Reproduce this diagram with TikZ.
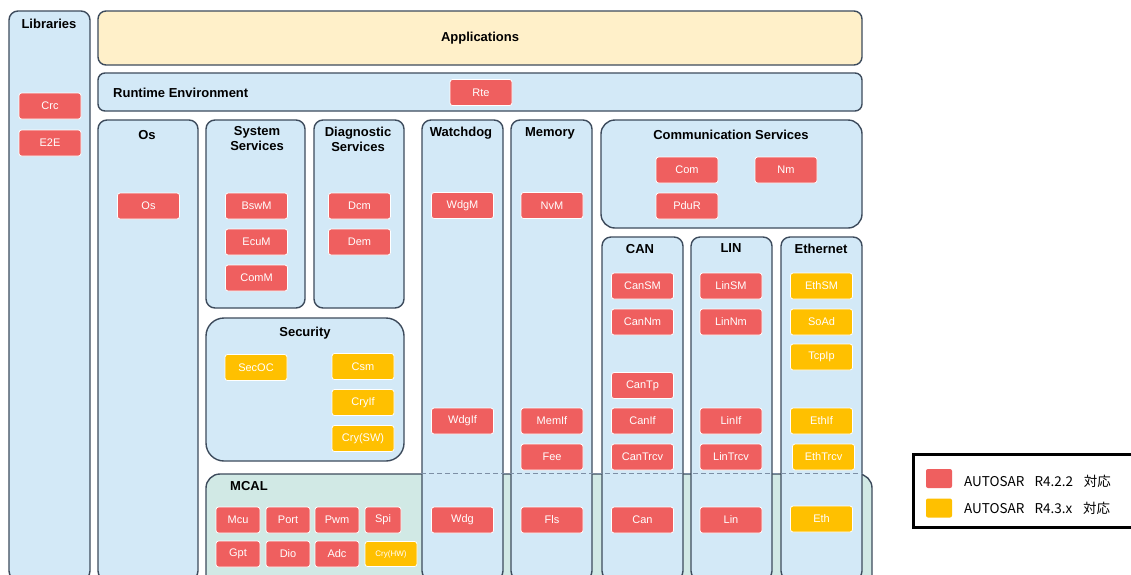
\documentclass[tikz,border=0pt]{standalone}
\usepackage{fontspec}
\setmainfont{Liberation Sans}
\newfontfamily\jpfont{Noto Sans CJK JP}
\usetikzlibrary{fit}
\definecolor{redc}{HTML}{EF5F5F}
\definecolor{yelc}{HTML}{FFC000}
\definecolor{lblue}{HTML}{D3E9F7}
\definecolor{appc}{HTML}{FFF0C9}
\definecolor{mcalc}{HTML}{D1E9E5}
\definecolor{bordc}{HTML}{3D4B5C}
\definecolor{dashc}{HTML}{7D8FA5}
\begin{document}
\begin{tikzpicture}[x=1pt,y=-1pt,
  layer/.style={draw=bordc, line width=1.4pt, fill=lblue, rounded corners=9pt, inner sep=0pt},
  ttl/.style={font=\bfseries\fontsize{13}{15}\selectfont, text=black, align=center, inner sep=0pt},
  mod/.style={fill=redc, draw=white, line width=0.8pt, rounded corners=2.5pt, text=white,
    font=\fontsize{11}{12}\selectfont, minimum width=62pt, minimum height=26pt, inner sep=0pt},
  newmod/.style={mod, fill=yelc},
  mcalmod/.style={mod, minimum width=44pt},
  legsq/.style={fill=#1, draw=none, rounded corners=2pt, minimum width=26pt, minimum height=19pt, inner sep=0pt},
  legtxt/.style={font=\jpfont\fontsize{13.5}{15}\selectfont, anchor=west, inner sep=0pt},
  sep/.style={draw=dashc, line width=1.6pt, dash pattern=on 5pt off 3pt}]
\clip (0,0) rectangle (1131,574);
\fill[white] (0,0) rectangle (1131,574);
% layers
\node[layer, fit={(9,11) (90,580)}] (lib) {};
\node[layer, fill=appc, rounded corners=8pt, fit={(98,11) (862,65)}] (app) {};
\node[layer, rounded corners=7pt, fit={(98,73) (862,111)}] (rteL) {};
\node[layer, fit={(98,120) (198,580)}] (osL) {};
\node[layer, fit={(206,120) (305,308)}] (sys) {};
\node[layer, fit={(314,120) (404,308)}] (diag) {};
\node[layer, rounded corners=18pt, fit={(206,318) (404,461)}] (sec) {};
\node[layer, fill=mcalc, rounded corners=14pt, fit={(206,474) (872,590)}] (mcal) {};
\node[layer, fit={(422,120) (503,580)}] (wdog) {};
\node[layer, fit={(511,120) (592,580)}] (mem) {};
\node[layer, rounded corners=14pt, fit={(601,120) (862,228)}] (comS) {};
\node[layer, fit={(602,237) (683,580)}] (canL) {};
\node[layer, fit={(691,237) (772,580)}] (linL) {};
\node[layer, fit={(781,237) (862,580)}] (ethL) {};
\draw[sep] (wdog.west |- mcal.north) -- (ethL.east |- mcal.north);
% titles
\node[ttl] (tLib) at (49,24) {Libraries};
\node[ttl] (tApp) at (480,38) {Applications};
\node[ttl, anchor=west] (tRte) at (113,93) {Runtime Environment};
\node[ttl] (tOs) at (147,135) {Os};
\node[ttl] (tSys) at (257,139) {System\\Services};
\node[ttl] (tDiag) at (358,139) {Diagnostic\\Services};
\node[ttl] (tSec) at (305,333) {Security};
\node[ttl] (tWdg) at (461,133) {Watchdog};
\node[ttl] (tMem) at (550,133) {Memory};
\node[ttl] (tCom) at (731,135) {Communication Services};
\node[ttl] (tCan) at (640,249) {CAN};
\node[ttl] (tLin) at (731,248) {LIN};
\node[ttl] (tEth) at (821,249) {Ethernet};
\node[ttl] (tMcal) at (249,486) {MCAL};
% modules
\node[mod] (crc) at (50,106) {Crc};
\node[mod] (e2e) at (50,143) {E2E};
\node[mod] (rte) at (481,92.5) {Rte};
\node[mod] (os) at (148.5,206) {Os};
\node[mod] (bswm) at (256.5,206) {BswM};
\node[mod] (ecum) at (256.5,242) {EcuM};
\node[mod] (comm) at (256.5,278) {ComM};
\node[mod] (dcm) at (359.5,206) {Dcm};
\node[mod] (dem) at (359.5,242) {Dem};
\node[newmod] (secoc) at (256,367.5) {SecOC};
\node[newmod] (csm) at (363,366.5) {Csm};
\node[newmod] (cryif) at (363,402.5) {CryIf};
\node[newmod] (crysw) at (363,438.5) {Cry(SW)};
\node[mod] (wdgm) at (462.5,205.5) {WdgM};
\node[mod] (wdgif) at (462.5,421) {WdgIf};
\node[mod] (wdg) at (462.5,520) {Wdg};
\node[mod] (nvm) at (552,205.5) {NvM};
\node[mod] (memif) at (552,421) {MemIf};
\node[mod] (fee) at (552,457) {Fee};
\node[mod] (fls) at (552,520) {Fls};
\node[mod] (com) at (687,170) {Com};
\node[mod] (nm) at (786,170) {Nm};
\node[mod] (pdur) at (687,206) {PduR};
\node[mod] (cansm) at (642.5,286) {CanSM};
\node[mod] (cannm) at (642.5,322) {CanNm};
\node[mod] (cantp) at (642.5,385.5) {CanTp};
\node[mod] (canif) at (642.5,421) {CanIf};
\node[mod] (cantrcv) at (642.5,457) {CanTrcv};
\node[mod] (can) at (642.5,520) {Can};
\node[mod] (linsm) at (731,286) {LinSM};
\node[mod] (linnm) at (731,322) {LinNm};
\node[mod] (linif) at (731,421) {LinIf};
\node[mod] (lintrcv) at (731,457) {LinTrcv};
\node[mod] (lin) at (731,520) {Lin};
\node[newmod] (ethsm) at (821.5,286) {EthSM};
\node[newmod] (soad) at (821.5,322) {SoAd};
\node[newmod] (tcpip) at (821.5,357) {TcpIp};
\node[newmod] (ethif) at (821.5,421) {EthIf};
\node[newmod] (ethtrcv) at (823.5,457) {EthTrcv};
\node[newmod] (eth) at (821.5,519) {Eth};
\node[mcalmod] (mcu) at (238,520) {Mcu};
\node[mcalmod] (port) at (288,520) {Port};
\node[mcalmod] (pwm) at (337,520) {Pwm};
\node[mcalmod, minimum width=36pt] (spi) at (383,520) {Spi};
\node[mcalmod] (gpt) at (238,554) {Gpt};
\node[mcalmod] (dio) at (288,554) {Dio};
\node[mcalmod] (adc) at (337,554) {Adc};
\node[mcalmod, fill=yelc, minimum width=52pt, minimum height=25pt, font=\fontsize{8}{9}\selectfont] (cryhw) at (391,554) {Cry(HW)};
% legend
\node[draw=black, line width=3pt, fill=white, inner sep=0pt, fit={(913,454) (1150,527)}] (legend) {};
\node[legsq=redc] (sq1) at (939,478.5) {};
\node[legsq=yelc] (sq2) at (939,508) {};
\node[legtxt] (lt1) at (964,481) {AUTOSAR\hspace{0.75em}R4.2.2\hspace{0.8em}対応};
\node[legtxt] (lt2) at (964,508) {AUTOSAR\hspace{0.75em}R4.3.x\hspace{0.8em}対応};
\end{tikzpicture}
\end{document}
